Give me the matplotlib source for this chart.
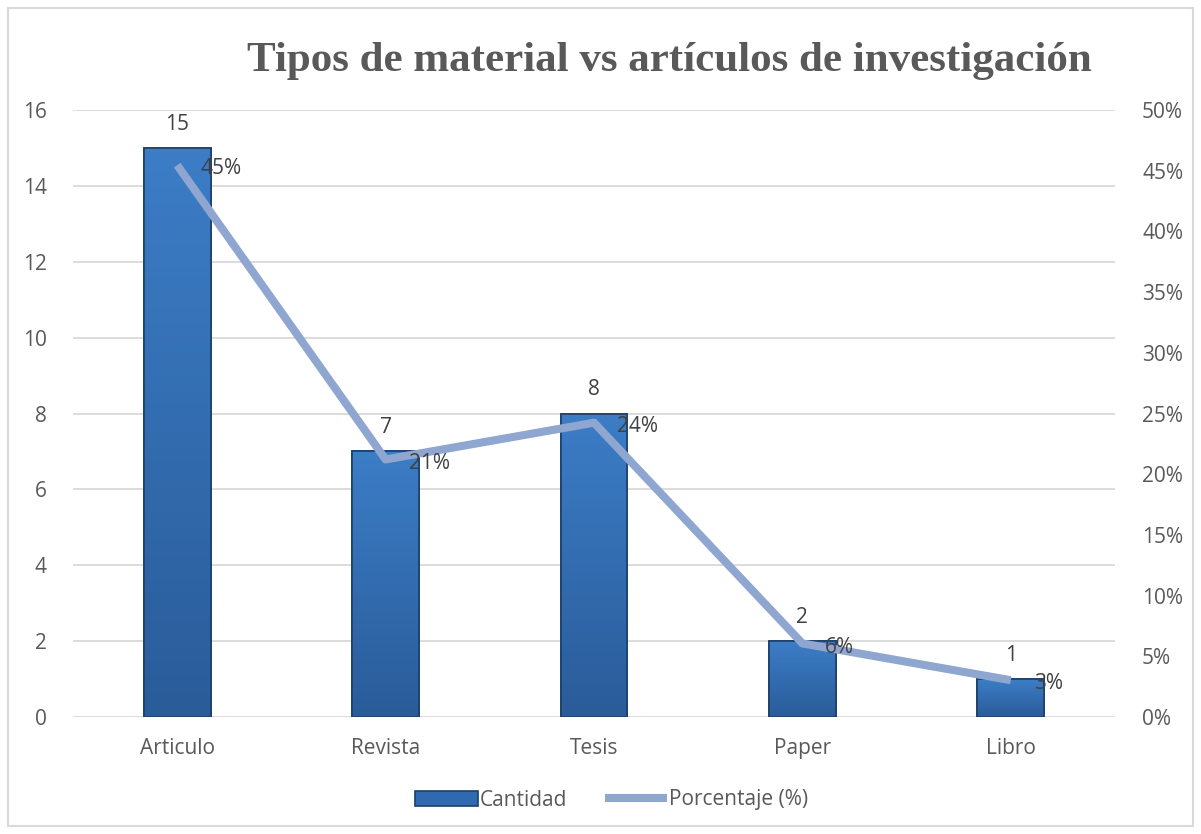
import matplotlib.pyplot as plt
import matplotlib.patches as patches
import matplotlib.colors as colors
import numpy as np

categorias = ["Articulo", "Revista", "Tesis", "Paper", "Libro"]
cantidad = [15, 7, 8, 2, 1]
porcentaje = [15/33, 7/33, 8/33, 2/33, 1/33]

gris = "#595959"
plt.rcParams['font.family'] = ['Open Sans', 'DejaVu Sans']
fs = 15

fig = plt.figure(figsize=(12.01, 8.34), dpi=100)
fig.patches.append(patches.Rectangle((8/1201, 8/834), 1 - 16/1201, 1 - 16/834,
                                     transform=fig.transFigure, fill=False,
                                     edgecolor="#D9D9D9", linewidth=1.5))

ax = fig.add_axes([73/1201, 1 - 717/834, 1042/1201, 607/834])
x = np.arange(len(categorias))

ax.set_axisbelow(True)
ax.yaxis.grid(True, color="#D9D9D9", linewidth=1.3)
bars = ax.bar(x, cantidad, width=0.32, color="#2F6AB0", edgecolor="#1B3F6B",
              linewidth=1.2, label="Cantidad", zorder=2)

# degradado aproximado en cada barra
cmap = colors.LinearSegmentedColormap.from_list("g", ["#2A5C99", "#3C7DC6"])
for b in bars:
    x0, w, h = b.get_x(), b.get_width(), b.get_height()
    grad = np.linspace(0, 1, 100).reshape(-1, 1)
    ax.imshow(grad, extent=(x0, x0 + w, 0, h), aspect="auto", origin="lower",
              cmap=cmap, zorder=2.1, clip_path=b)
    ax.add_patch(patches.Rectangle((x0, 0), w, h, fill=False,
                                   edgecolor="#1B3F6B", linewidth=1.2, zorder=2.2))

ax.set_xlim(-0.5, 4.5)
ax.set_ylim(0, 16)
ax.set_yticks(range(0, 17, 2))
ax.set_xticks(x)
ax.set_xticklabels(categorias)
ax.tick_params(length=0, labelsize=fs, colors=gris)
ax.tick_params(axis="x", pad=15)
ax.tick_params(axis="y", pad=19)
for s in ax.spines.values():
    s.set_visible(False)

for xi, v in zip(x, cantidad):
    ax.text(xi, v + 0.35, str(v), ha="center", va="bottom", fontsize=fs, color="#404040")

ax2 = ax.twinx()
ax2.plot(x, porcentaje, color="#8FA6D1", linewidth=5.8, solid_capstyle="butt",
         label="Porcentaje (%)", zorder=3)
ax2.set_ylim(0, 0.5)
ax2.set_yticks(np.arange(0, 0.51, 0.05))
ax2.set_yticklabels([f"{int(round(t*100))}%" for t in np.arange(0, 0.51, 0.05)])
ax2.tick_params(length=0, labelsize=fs, colors=gris, pad=19.5)
for s in ax2.spines.values():
    s.set_visible(False)

for xi, p in zip(x, porcentaje):
    ax2.text(xi + 0.11, p - 0.003, f"{int(round(p*100))}%", ha="left", va="center",
             fontsize=fs, color="#404040", zorder=4)

fig.text(669/1201, 1 - 61/834, "Tipos de material vs artículos de investigación",
         ha="center", va="center", fontsize=31, fontweight="bold",
         family="Liberation Serif", color=gris)

h1, l1 = ax.get_legend_handles_labels()
h2, l2 = ax2.get_legend_handles_labels()
fig.legend(h1 + h2, l1 + l2, loc="center", bbox_to_anchor=(612/1201, 1 - 800/834),
           ncol=2, frameon=False, fontsize=fs, labelcolor=gris, handlelength=3.0,
           handletextpad=0.1, columnspacing=1.8)

fig.savefig("out.png", dpi=100)
